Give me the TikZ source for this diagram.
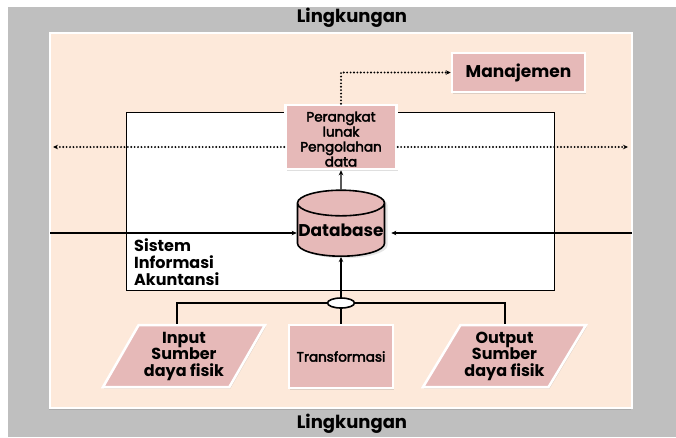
\documentclass[tikz,border=0pt]{standalone}
\usepackage{fontspec}
\setmainfont{Poppins}
\newfontfamily\sedang{Poppins}[FakeBold=3]
\usepackage{xcolor}
\usetikzlibrary{arrows.meta,shapes.geometric,shadows}
\definecolor{abu}{RGB}{191,191,191}
\definecolor{krem}{RGB}{253,233,218}
\definecolor{merahmuda}{RGB}{230,185,184}
\tikzset{
  kotak/.style={fill=merahmuda,draw=white,line width=2.5pt,inner sep=0pt,align=center,
    drop shadow={shadow xshift=1pt,shadow yshift=-1.5pt,opacity=0.25}},
  garis/.style={line width=1.4pt},
  bus/.style={line width=2.2pt},
  titik/.style={line width=2.1pt,dash pattern=on 0pt off 3.4pt,line cap=round},
  tebal/.style={font=\bfseries\fontsize{17}{20}\selectfont}
}
\begin{document}
\begin{tikzpicture}[x=1pt,y=-1pt,>={Stealth[length=5pt,width=4.5pt]}]
\useasboundingbox(0,0)rectangle(676,437);
\fill[abu](8,7)rectangle(676,437);
\draw[draw=white,line width=2.5pt,fill=krem,drop shadow={shadow xshift=-1pt,shadow yshift=-1.5pt,opacity=0.3}](50,33)rectangle(632,408);
\node[tebal,font=\bfseries\fontsize{18}{20}\selectfont](ling1)at(352,18){Lingkungan};
\node[tebal,font=\bfseries\fontsize{18}{20}\selectfont](ling2)at(352,424){Lingkungan};
\draw[fill=white,line width=0.7pt](126,112)rectangle(554,290);
\node[anchor=north west,align=left,inner sep=0pt,font=\bfseries\fontsize{16}{17}\selectfont](sia)at(134,238){Sistem\\Informasi\\Akuntansi};
% kotak-kotak
\node[kotak,minimum width=111pt,minimum height=64pt,font=\sedang\fontsize{13.5}{15}\selectfont](plunak)at(341,137)
  {\raisebox{-4pt}[\height][\depth]{\begin{tabular}{@{}c@{}}Perangkat\\lunak\\Pengolahan\\data\end{tabular}}};
\node[kotak,tebal,minimum width=133pt,minimum height=39pt](manaj)at(518.5,72.5){Manajemen};
\node[cylinder,shape border rotate=90,aspect=0.3,draw=black,line width=1.6pt,fill=merahmuda,
  minimum width=87pt,minimum height=66pt,inner sep=0pt,font=\bfseries\fontsize{17}{19}\selectfont,
  drop shadow={shadow xshift=3pt,shadow yshift=-2pt,opacity=0.2}](db)at(341,230){Database};
\node[draw,ellipse,line width=1.6pt,fill=white,minimum width=27pt,minimum height=10pt,inner sep=0pt](elip)at(341,303){};
\node[kotak,trapezium,trapezium left angle=57,trapezium right angle=123,trapezium stretches=true,
  minimum width=162pt,minimum height=62pt,font=\bfseries\fontsize{16}{16.5}\selectfont](input)at(184,356){Input\\Sumber\\daya fisik};
\node[kotak,minimum width=104pt,minimum height=63pt,font=\sedang\fontsize{13.5}{15}\selectfont](trans)at(341,356.5){Transformasi};
\node[kotak,trapezium,trapezium left angle=55,trapezium right angle=125,trapezium stretches=true,
  minimum width=163pt,minimum height=62pt,font=\bfseries\fontsize{16}{16.5}\selectfont](output)at(504.5,356){Output\\Sumber\\daya fisik};
% penghubung
\coordinate(busL)at(177,303);
\coordinate(busR)at(505,303);
\coordinate(kiri)at(53,147);
\coordinate(kanan)at(628,147);
\coordinate(masukL)at(50,233);
\coordinate(masukR)at(632,233);
\draw[bus](busL|-input.north)--(busL)--(elip.west);
\draw[bus](elip.east)--(busR)--(busR|-output.north);
\draw[bus](elip.south)--(trans.north);
\draw[garis,->](elip.north)--(db.south);
\draw[garis,->](db.north)--(plunak.south);
\draw[titik,->](plunak.north)--(plunak.north|-manaj.west)--(manaj.west);
\draw[titik,->](plunak.west|-kiri)--(kiri);
\draw[titik,->](plunak.east|-kanan)--(kanan);
\draw[garis,->](masukL)--(masukL-|db.west);
\draw[garis,->](masukR)--([xshift=6pt]db.east|-masukR);
\end{tikzpicture}
\end{document}
